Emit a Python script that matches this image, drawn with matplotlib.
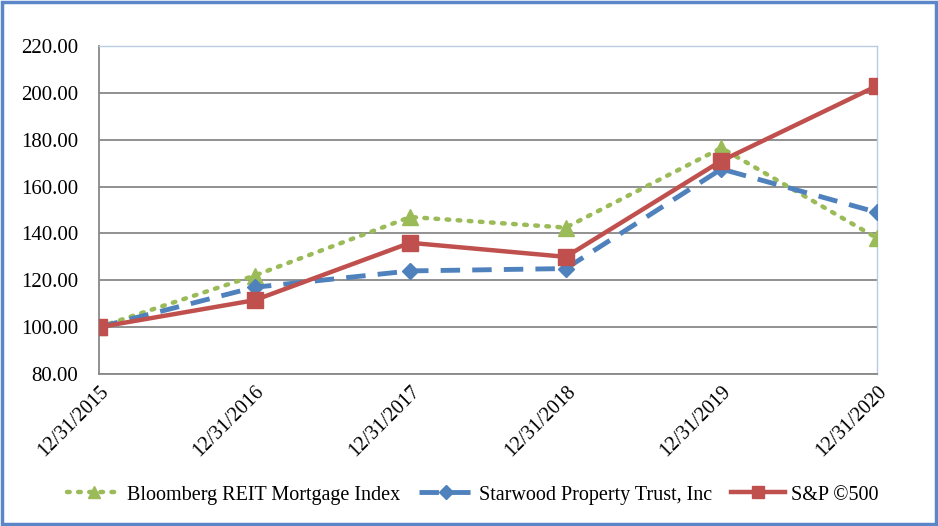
import matplotlib
matplotlib.use("Agg")
import matplotlib.pyplot as plt
from matplotlib.patches import Rectangle

plt.rcParams['font.family'] = ['Liberation Serif', 'DejaVu Serif']

dates = ["12/31/2015", "12/31/2016", "12/31/2017", "12/31/2018", "12/31/2019", "12/31/2020"]
bloomberg = [100.0, 122.0, 147.0, 142.5, 176.5, 138.0]
starwood = [100.0, 117.0, 124.0, 125.0, 167.5, 149.0]
sp500 = [100.0, 111.5, 136.0, 130.0, 171.0, 203.0]
yticks = [80, 100, 120, 140, 160, 180, 200, 220]

fig = plt.figure(figsize=(9.38, 5.26), dpi=100)
ax = fig.add_axes([0.1055, 0.289, 0.8295, 0.6235])

x = list(range(len(dates)))
ax.plot(x, bloomberg, color='#9BBB59', linestyle=(0, (0.6, 1.9)), linewidth=3.2,
        dash_capstyle='round', marker='^', markersize=11, label='Bloomberg REIT Mortgage Index', zorder=3)
ax.plot(x, starwood, color='#4F81BD', linestyle=(0, (4, 2.5)), linewidth=3.5,
        marker='D', markersize=8.5, label='Starwood Property Trust, Inc', zorder=4)
ax.plot(x, sp500, color='#C0504D', linestyle='-', linewidth=3.2,
        marker='s', markersize=11, label='S&P \u00a9500', zorder=5)

ax.set_xlim(0, 5)
ax.set_ylim(80, 220)
ax.set_yticks(yticks)
ax.set_yticklabels([f"{v:.2f}" for v in yticks], fontsize=15)
ax.set_xticks(x)
ax.set_xticklabels(dates, rotation=45, ha='right', rotation_mode='anchor', fontsize=14.5)
ax.tick_params(axis='both', length=0)
ax.tick_params(axis='y', pad=15)
ax.tick_params(axis='x', pad=6)

ax.yaxis.grid(True, color='#888888', linewidth=1.3)
ax.set_axisbelow(True)
for s in ['left', 'bottom']:
    ax.spines[s].set_color('#888888')
    ax.spines[s].set_linewidth(1.3)
for s in ['top', 'right']:
    ax.spines[s].set_color('#B8CCE4')
    ax.spines[s].set_linewidth(1.0)

leg = fig.legend(loc='center', bbox_to_anchor=(0.504, 0.059), ncol=3, frameon=False,
                 fontsize=14.5, handlelength=2.7, columnspacing=0.9, handletextpad=0.3,
                 markerscale=0.85)

fig.patches.append(Rectangle((0.002, 0.004), 0.996, 0.993, transform=fig.transFigure,
                             fill=False, edgecolor='#5B87C8', linewidth=2.5))

fig.savefig('out.png', dpi=100)
